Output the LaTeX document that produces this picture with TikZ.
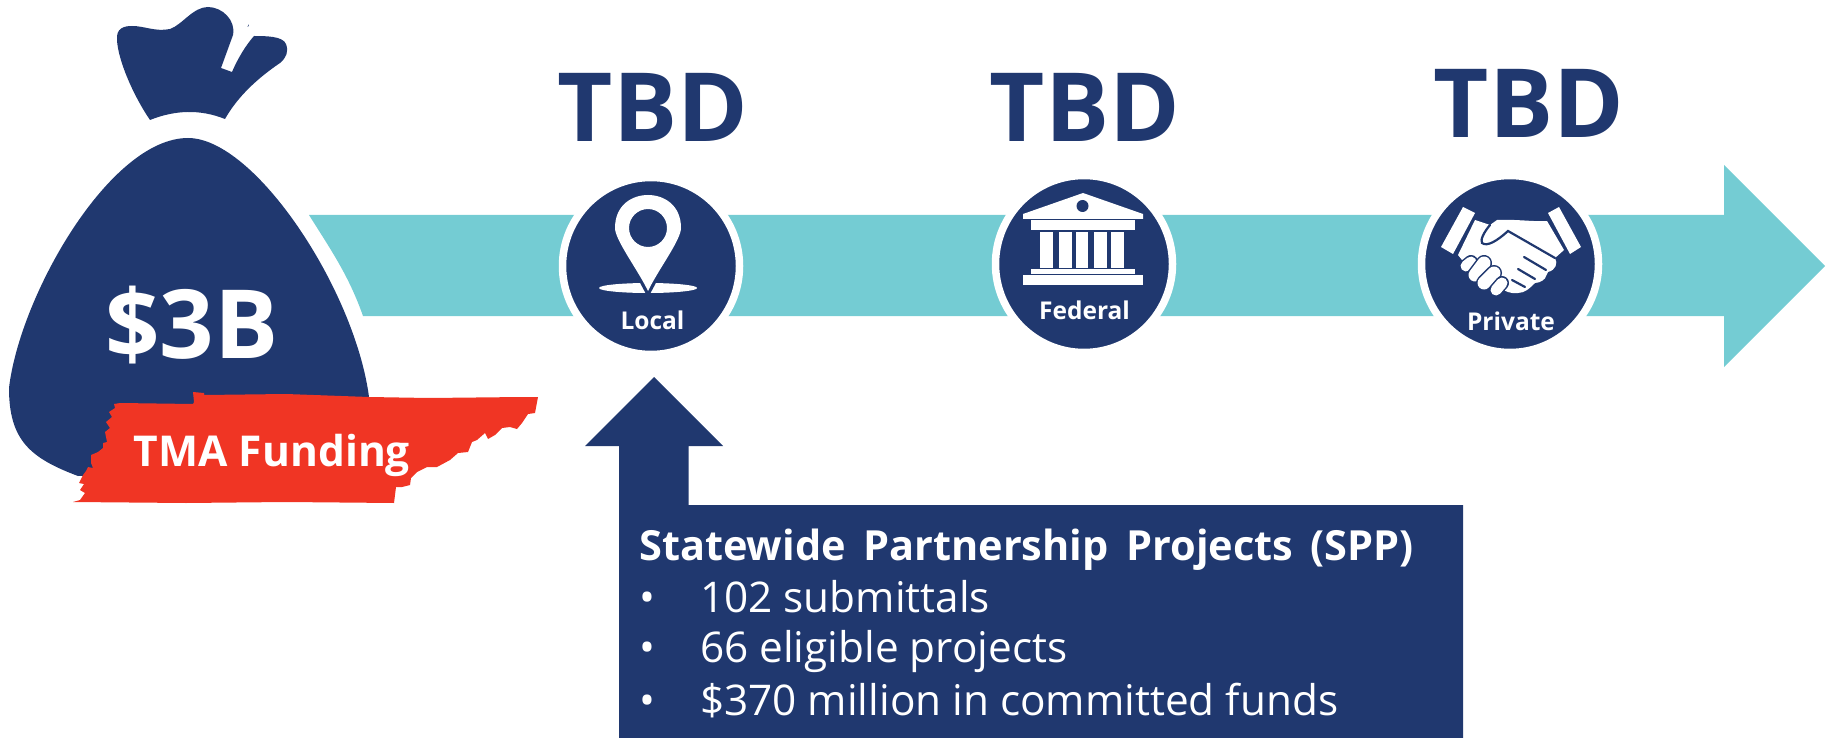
\documentclass[tikz,border=0pt]{standalone}
\usepackage{fontspec}
\setmainfont{Open Sans}
\definecolor{navy}{HTML}{20386F}
\definecolor{teal}{HTML}{74CCD3}
\definecolor{redst}{HTML}{F03524}
\tikzset{
  boldwhite/.style={anchor=base,inner sep=0pt,text=white,font=\bfseries},
  tbdlabel/.style={anchor=base,inner sep=0pt,text=navy,font=\fontsize{95.5}{96}\selectfont\bfseries},
  circlabel/.style={anchor=base,inner sep=0pt,text=white,font=\fontsize{24.5}{25}\selectfont\bfseries},
  listlabel/.style={anchor=base west,inner sep=0pt,text=white,font=\fontsize{42.3}{43}\selectfont},
  disc/.style={circle,fill=navy,draw=white,line width=7.5pt,minimum size=177pt,inner sep=0pt},
}
\begin{document}
\begin{tikzpicture}[x=1pt,y=-1pt]
\useasboundingbox (0,0) rectangle (1831,738);
% long arrow
\fill[teal] (309,215) -- (1724,215) -- (1724,165) -- (1825,266) -- (1724,367) -- (1724,316) -- (363,316) .. controls (349,276) and (331,250) .. (309,215) -- cycle;
% bag body
\fill[navy] (188,138) .. controls (255,138) and (355,290) .. (369,397) -- (369,470) -- (78,476) .. controls (30,458) and (9,440) .. (9,388) .. controls (20,295) and (110,138) .. (188,138) -- cycle;
% bag knot
\fill[navy] (150,120) .. controls (133,95) and (118,60) .. (117,40)
  .. controls (116,28) and (124,26) .. (132,26)
  .. controls (145,26) and (155,32) .. (170,29)
  .. controls (182,25) and (193,7) .. (208,7)
  .. controls (222,7) and (236,20) .. (233,35)
  -- (221,68) -- (232,72)
  .. controls (238,58) and (246,45) .. (254,36)
  .. controls (265,36) and (283,36) .. (286,44)
  .. controls (289,52) and (286,58) .. (280,63)
  .. controls (258,78) and (238,96) .. (225,119)
  .. controls (200,109) and (175,110) .. (150,120) -- cycle;
\fill[navy] (247.5,27) -- (248.5,24.5) -- (248.8,25) -- (248,27) -- cycle;
\node[boldwhite,font=\fontsize{95.5}{96}\selectfont\bfseries] (amount) at (192,358) {\$3B};
% Tennessee
\fill[redst] (73,502) -- (80,500) -- (85,493) -- (80,490) -- (84,484) -- (79,483) -- (83,475) -- (86,471) -- (88,467) -- (93,468) -- (91,463) -- (91,455) -- (98,452) -- (103,448) -- (103,443) -- (107,442) -- (105,432) -- (110,428) -- (106,422) -- (112,417) -- (109,412) -- (115,408) -- (114,404) -- (120,403) -- (193,404) -- (194,402) -- (193,392) -- (204,393) -- (204,395) -- (286,394) -- (369,397) -- (429,398) -- (523,397) -- (538,397) -- (535,413) -- (528,414) -- (522,423) -- (517,429) -- (510,427) -- (502,428) -- (495,435) -- (488,439) -- (485,433) -- (477,440) -- (472,442) -- (468,452) -- (458,453) -- (450,460) -- (437,467) -- (427,467) -- (417,472) -- (411,478) -- (410,485) -- (402,487) -- (396,487) -- (394,503) -- (286,502) -- (186,503) -- cycle;
\node[boldwhite,font=\fontsize{42.5}{43}\selectfont\bfseries] (tma) at (272,466) {TMA Funding};
% discs
\node[disc] (local) at (651,266) {};
\node[disc] (federal) at (1084,264) {};
\node[disc] (private) at (1510,264) {};
% TBD
\node[tbdlabel] (tbda) at (653,142) {TBD};
\node[tbdlabel] (tbdb) at (1085,142) {TBD};
\node[tbdlabel] (tbdc) at (1529,138) {TBD};
% pin
\fill[white] (648,288) ellipse [x radius=49pt,y radius=5pt];
\path[fill=navy] (638,279) -- (658,279) -- (650,294) -- (646,294) -- cycle;
\path[fill=white,even odd rule] (648,291) .. controls (638,270) and (615,240) .. (615,228)
  .. controls (615,205) and (632,195) .. (648,195)
  .. controls (664,195) and (681,205) .. (681,228)
  .. controls (681,240) and (658,270) .. (648,291) -- cycle
  (667,228) arc [start angle=0,end angle=360,radius=19pt];
\node[circlabel] (locallab) at (652.5,329) {Local};
% temple
\fill[white] (1083,193) -- (1143,214) -- (1143,219) -- (1023,219) -- (1023,214) -- cycle;
\fill[navy] (1082.5,206) circle [radius=6pt];
\fill[white] (1031,220) rectangle (1135,230);
\foreach \a/\b in {1040/1053,1059/1072,1076/1088,1094/1106.5,1111/1124} \fill[white] (\a,232) rectangle (\b,268);
\fill[white] (1031,269) rectangle (1135,274);
\fill[white] (1023,275) rectangle (1143,285);
\node[circlabel] (federallab) at (1084.5,319) {Federal};
% handshake
\fill[white] (1463,207) -- (1475,213) -- (1453,254) -- (1441,247) -- cycle;
\fill[white] (1559,207) -- (1548,213) -- (1570,254) -- (1581,247) -- cycle;
\fill[white] (1475,220) -- (1490,225) -- (1497,220) .. controls (1515,219) and (1535,222) .. (1547,221) -- (1564,250) -- (1555,258)
  .. controls (1558,263) and (1556,270) .. (1548,272) -- (1546,276) .. controls (1546,279) and (1540,283) .. (1535,283)
  .. controls (1530,288) and (1525,293) .. (1518,293) .. controls (1510,294) and (1505,291) .. (1500,288) -- (1470,270) -- (1458,255) -- cycle;
\draw[navy,line width=2.2pt,line cap=round] (1490,225) .. controls (1484,232) and (1480,240) .. (1482,243) .. controls (1487,247) and (1497,241) .. (1508,231) -- (1555,258);
\draw[navy,line width=2.2pt,line cap=round] (1524,257) -- (1546,270);
\draw[navy,line width=2.2pt,line cap=round] (1518,269) -- (1535,279);
\draw[navy,line width=2.2pt,line cap=round] (1512,280) -- (1525,287);
\foreach \xa/\ya/\xb/\yb/\w in {1466/266/1471/262/11,1475/275/1484/263/13,1484/283/1494/273/13,1496/290/1502/283/11}{
  \draw[navy,line width=\w pt+3pt,line cap=round] (\xa,\ya) -- (\xb,\yb);
  \draw[white,line width=\w pt,line cap=round] (\xa,\ya) -- (\xb,\yb);
}
\node[circlabel] (privatelab) at (1511,330) {Private};
% SPP box and arrow
\fill[navy] (654,377) -- (723,446) -- (688.5,446) -- (688.5,505) -- (1463,505) -- (1463,738) -- (619,738) -- (619,446) -- (585,446) -- cycle;
\node[anchor=base west,inner sep=0pt,text=white,font=\fontsize{41.5}{42}\selectfont\bfseries] (spp) at (639,560) {\spaceskip=17.5pt Statewide Partnership Projects (SPP)};
\node[listlabel] (b1) at (639,612) {•};
\node[listlabel] (b2) at (639,662) {•};
\node[listlabel] (b3) at (639,715) {•};
\node[listlabel] (l1) at (700,612) {102 submittals};
\node[listlabel] (l2) at (700,662) {66 eligible projects};
\node[listlabel] (l3) at (700,715) {\$370 million in committed funds};
\end{tikzpicture}
\end{document}
